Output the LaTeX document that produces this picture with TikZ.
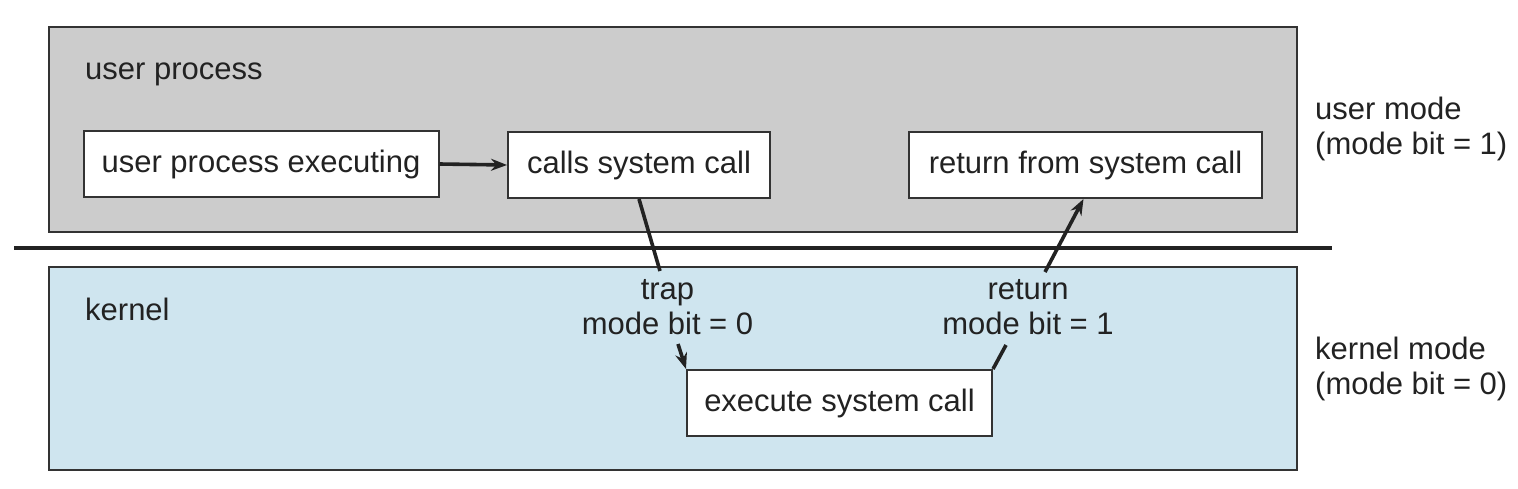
\documentclass[tikz,border=0pt]{standalone}
\usepackage{fontspec}
\setmainfont{Liberation Sans}
\usetikzlibrary{arrows.meta}
\definecolor{usergray}{HTML}{CCCCCC}
\definecolor{kernblue}{HTML}{CFE5EF}
\definecolor{edge}{HTML}{333333}
\definecolor{ink}{HTML}{222222}
\tikzset{
  region/.style={draw=edge, line width=2pt, inner sep=0pt},
  stepbox/.style={draw=edge, fill=white, line width=2pt, inner sep=0pt,
    minimum height=66pt, text height=22pt, text depth=6pt, text=ink},
  lbl/.style={inner sep=0pt, text=ink},
  conn/.style={line width=3.6pt, draw=ink},
  arr/.style={conn, -{Stealth[length=16pt,width=12pt]}},
}
\begin{document}
\begin{tikzpicture}[x=1pt, y=-1pt, font=\fontsize{31}{35}\selectfont]
\useasboundingbox (0,0) rectangle (1518,488);
% regions
\node[region, fill=usergray, minimum width=1248pt, minimum height=205pt] (user) at (673,129.5) {};
\node[region, fill=kernblue, minimum width=1248pt, minimum height=203pt] (kern) at (673,368.5) {};
\coordinate (sepL) at (14,248);
\coordinate (sepR) at (1332,248);
\draw[line width=4pt, draw=ink] (sepL) -- (sepR);
% region labels
\node[lbl, anchor=base west] (ulbl) at (85,79) {user process};
\node[lbl, anchor=base west] (klbl) at (85,320) {kernel};
\node[lbl, anchor=base west, align=left] (umode) at (1315,154) {user mode\\(mode bit = 1)};
\node[lbl, anchor=base west, align=left] (kmode) at (1315,394) {kernel mode\\(mode bit = 0)};
% boxes
\node[stepbox, minimum width=355pt] (b1) at (261,164) {user process executing};
\node[stepbox, minimum width=262pt] (b2) at (639,165) {calls system call};
\node[stepbox, minimum width=353pt] (b3) at (1085.5,165) {return from system call};
\node[stepbox, minimum width=305pt] (b4) at (839.5,403) {execute system call};
% transition labels
\node[lbl, anchor=base, align=center] (trap) at (667.5,334) {trap\\mode bit = 0};
\node[lbl, anchor=base, align=center] (ret) at (1028,334) {return\\mode bit = 1};
\coordinate (t1) at (660,271);
\coordinate (t2) at (678,344);
\coordinate (r1) at (1045,272);
\coordinate (r2) at (1006,345);
% connectors
\draw[arr] (b1.east) -- (b2.west);
\draw[conn] (b2.south) -- (t1);
\draw[arr] (t2) -- (b4.north west);
\draw[conn] (b4.north east) -- (r2);
\draw[arr] (r1) -- ([xshift=-2pt]b3.south);
\end{tikzpicture}
\end{document}
